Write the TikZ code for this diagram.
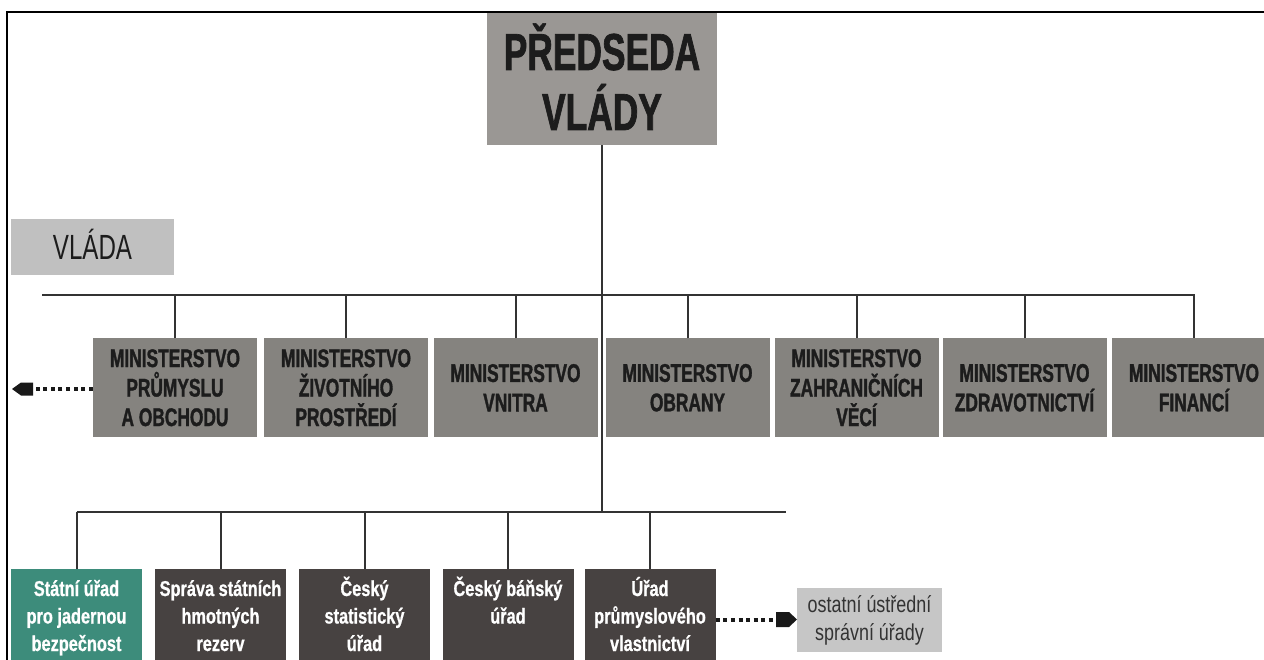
\documentclass[tikz,border=0pt]{standalone}
\usepackage{fontspec}
\newfontfamily\fMin[FakeStretch=0.68, BoldFeatures={FakeBold=1.3}]{Liberation Sans}
\newfontfamily\fOff[FakeStretch=0.76, BoldFeatures={FakeBold=0.8}]{Liberation Sans}
\newfontfamily\fVl[FakeStretch=0.69]{Liberation Sans}
\newfontfamily\fOst[FakeStretch=0.78]{Liberation Sans}
\definecolor{cPM}{HTML}{9A9794}
\definecolor{cMin}{HTML}{85837F}
\definecolor{cVl}{HTML}{C0C0C0}
\definecolor{cDark}{HTML}{474241}
\definecolor{cTeal}{HTML}{3D8C7B}
\definecolor{cOst}{HTML}{C6C6C6}
\definecolor{cTxt}{HTML}{1C1C1C}
\definecolor{cLine}{HTML}{333333}
\newcommand\capT[1]{\rule{0pt}{#1pt}}
\newcommand\capD[1]{\rule[-#1pt]{0pt}{#1pt}}
\begin{document}
\begin{tikzpicture}[x=1pt,y=-1pt,
  pmbox/.style={fill=cPM, minimum width=230pt, minimum height=132pt, inner sep=0pt, align=center, text=cTxt, font=\fMin\bfseries\fontsize{52}{60}\selectfont},
  minbox/.style={fill=cMin, minimum width=164pt, minimum height=98pt, inner sep=0pt, align=center, text=cTxt, font=\fMin\bfseries\fontsize{25.5}{29.5}\selectfont},
  ofcbox/.style={fill=cDark, minimum width=131pt, minimum height=95pt, inner sep=0pt, align=center, text=white, font=\fOff\bfseries\fontsize{21.5}{27.5}\selectfont},
  vlbox/.style={fill=cVl, minimum width=163pt, minimum height=56pt, inner sep=0pt, text=cTxt, font=\fVl\fontsize{35}{40}\selectfont},
  ostbox/.style={fill=cOst, minimum width=145pt, minimum height=64pt, inner sep=0pt, align=center, text=cTxt!90, font=\fOst\fontsize{23}{28}\selectfont},
  conn/.style={draw=cLine, line width=2pt},
  dotline/.style={draw=black!90, line width=4pt, dash pattern=on 4pt off 3.6pt},
  headfill/.style={fill=black!90}
]
\useasboundingbox (0,0) rectangle (1264,660);
\fill[white] (0,0) rectangle (1264,660);
% frame
\draw[black, line width=2.5pt] (7,670) -- (7,12) -- (1270,12);

% nodes
\node[pmbox] (pm) at (602,79) {\capT{49}PŘEDSEDA\\VLÁDY\capD{7}};
\node[vlbox] (vl) at (92.5,247) {\capT{32}VLÁDA\capD{6}};

\node[minbox] (m1) at (175,387.5) {\capT{18.3}MINISTERSTVO\\PRŮMYSLU\\A OBCHODU};
\node[minbox] (m2) at (346,387.5) {\capT{18.3}MINISTERSTVO\\ŽIVOTNÍHO\\PROSTŘEDÍ};
\node[minbox] (m3) at (515.5,387.5) {\capT{18.3}MINISTERSTVO\\VNITRA};
\node[minbox] (m4) at (687.5,387.5) {\capT{18.3}MINISTERSTVO\\OBRANY};
\node[minbox] (m5) at (856.5,387.5) {\capT{18.3}MINISTERSTVO\\ZAHRANIČNÍCH\\VĚCÍ};
\node[minbox] (m6) at (1024.5,387.5) {\capT{18.3}MINISTERSTVO\\ZDRAVOTNICTVÍ};
\node[minbox] (m7) at (1194,387.5) {\capT{18.3}MINISTERSTVO\\FINANCÍ};

\node[ofcbox, fill=cTeal] (b1) at (76.5,616.5) {\capT{20}Státní úřad\\pro jadernou\\bezpečnost\capD{6}};
\node[ofcbox] (b2) at (220.5,616.5) {\capT{20}Správa státních\\hmotných\\rezerv\capD{6}};
\node[ofcbox] (b3) at (364.5,616.5) {\capT{20}Český\\statistický\\úřad\capD{6}};
\node[ofcbox] (b4) at (508,616.5) {\capT{20}Český báňský\\úřad\\\capD{6}};
\node[ofcbox] (b5) at (650,616.5) {\capT{20}Úřad\\průmyslového\\vlastnictví\capD{6}};

\node[ostbox] (ost) at (869.5,620) {\capT{19}ostatní ústřední\\správní úřady\capD{7}};

% coordinates
\coordinate (busL) at (42,295);
\coordinate (bus2) at (602,512);
\coordinate (bus2R) at (786,512);
\coordinate (arrL) at (33,389);
\coordinate (arrR) at (776,619.5);

% connectors
\draw[conn] (busL) -- (busL -| m7.north) -- (m7.north);
\foreach \m in {m1,m2,m3,m4,m5,m6}{
  \draw[conn] (\m.north) -- (\m.north |- busL);
}
\draw[conn] (pm.south) -- (bus2);
\draw[conn] (b1.north |- bus2) -- (bus2R);
\foreach \b in {b1,b2,b3,b4,b5}{
  \draw[conn] (\b.north) -- (\b.north |- bus2);
}

% dotted arrows
\draw[dotline] (m1.west |- arrL) -- (arrL);
\fill[headfill] (arrL) ++(0,-6.5) -- ++(-12,0) -- ++(-9,6.5) -- ++(9,6.5) -- ++(12,0) -- cycle;
\draw[dotline] (b5.east |- arrR) -- (arrR);
\fill[headfill] (arrR) ++(0,-7.5) -- ++(13,0) -- ++(8,7.5) -- ++(-8,7.5) -- ++(-13,0) -- cycle;
\end{tikzpicture}
\end{document}
